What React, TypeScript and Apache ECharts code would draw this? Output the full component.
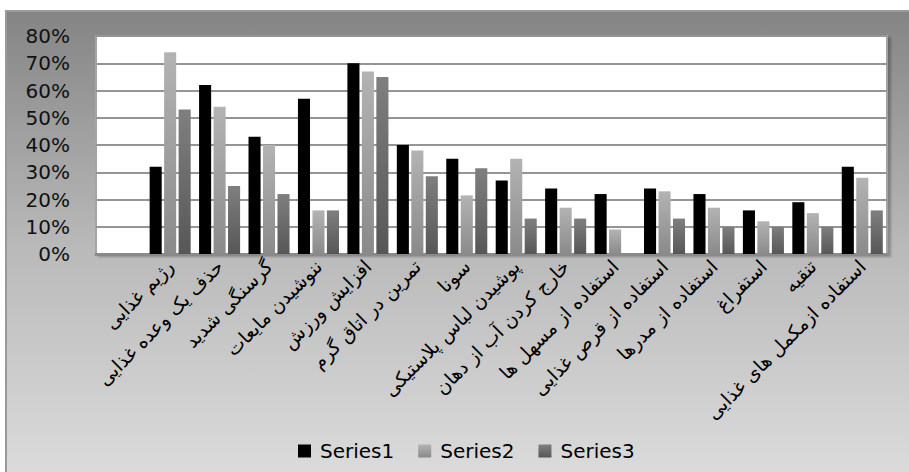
import React, { useEffect, useRef } from "react";
import * as echarts from "echarts";

const categories = [
  "",
  "رژیم غذایی",
  "حذف یک وعده غذایی",
  "گرسنگی شدید",
  "ننوشیدن مایعات",
  "افزایش ورزش",
  "تمرین در اتاق گرم",
  "سونا",
  "پوشیدن لباس پلاستیکی",
  "خارج کردن آب از دهان",
  "استفاده از مسهل ها",
  "استفاده از قرص غذایی",
  "استفاده از مدرها",
  "استفراغ",
  "تنقیه",
  "استفاده ازمکمل های غذایی",
];

const series1 = [null, 32, 62, 43, 57, 70, 40, 35, 27, 24, 22, 24, 22, 16, 19, 32];
const series2 = [null, 74, 54, 40, 16, 67, 38, 21.5, 35, 17, 9, 23, 17, 12, 15, 28];
const series3 = [null, 53, 25, 22, 16, 65, 28.5, 31.5, 13, 13, 0, 13, 10, 10, 10, 16];

const yTicks = { min: 0, max: 80, interval: 10 };

const FONT = "'DejaVu Sans', Verdana, sans-serif";

const grad = (top: string, bottom: string) => ({
  type: "linear",
  x: 0,
  y: 0,
  x2: 0,
  y2: 1,
  colorStops: [
    { offset: 0, color: top },
    { offset: 1, color: bottom },
  ],
});

export default function App() {
  const ref = useRef<HTMLDivElement>(null);
  useEffect(() => {
    if (!ref.current) return;
    const chart = echarts.init(ref.current, undefined, { renderer: "svg" });
    chart.setOption({
      animation: false,
      backgroundColor: "#ffffff",
      graphic: [
        {
          type: "rect",
          z: -10,
          silent: true,
          shape: { x: 6, y: 11, width: 910, height: 470 },
          style: {
            fill: {
              type: "linear",
              x: 0,
              y: 0,
              x2: 0,
              y2: 1,
              colorStops: [
                { offset: 0, color: "#848484" },
                { offset: 0.5, color: "#b9b9b9" },
                { offset: 1, color: "#dcdcdc" },
              ],
            },
            stroke: "#999999",
            lineWidth: 2,
          },
        },
      ],
      grid: {
        left: 96,
        right: 22,
        top: 36,
        bottom: 218,
        show: true,
        backgroundColor: "#ffffff",
        borderColor: "#a4a4a4",
        borderWidth: 2,
        shadowColor: "rgba(0,0,0,0.25)",
        shadowOffsetX: 3,
        shadowOffsetY: 2,
        shadowBlur: 2,
      },
      legend: {
        left: 293,
        top: 436,
        itemWidth: 13,
        itemHeight: 13,
        itemGap: 24,
        icon: "rect",
        textStyle: { fontSize: 20, fontFamily: FONT, color: "#000", padding: [0, 0, 0, 4] },
        data: ["Series1", "Series2", "Series3"],
      },
      xAxis: {
        type: "category",
        data: categories,
        axisLine: { show: true, lineStyle: { color: "#8a8a8a", width: 3 } },
        axisTick: { show: false },
        axisLabel: {
          interval: 0,
          rotate: 45,
          fontSize: 19,
          fontFamily: FONT,
          color: "#000",
          margin: 9,
        },
      },
      yAxis: {
        type: "value",
        min: yTicks.min,
        max: yTicks.max,
        interval: yTicks.interval,
        axisLine: { show: false },
        axisTick: { show: false },
        splitLine: { lineStyle: { color: "#959595", width: 2 } },
        axisLabel: {
          formatter: "{value}%",
          fontSize: 20,
          fontFamily: FONT,
          color: "#111",
          margin: 26,
        },
      },
      series: [
        {
          name: "Series1",
          type: "bar",
          data: series1,
          barGap: "20%",
          barCategoryGap: "17%",
          itemStyle: { color: "#000000" },
        },
        {
          name: "Series2",
          type: "bar",
          data: series2,
          barGap: "20%",
          barCategoryGap: "17%",
          itemStyle: { color: grad("#b3b3b3", "#8a8a8a") },
        },
        {
          name: "Series3",
          type: "bar",
          data: series3,
          barGap: "20%",
          barCategoryGap: "17%",
          itemStyle: { color: grad("#7f7f7f", "#575757") },
        },
      ],
    });
    return () => chart.dispose();
  }, []);
  return (
    <div
      ref={ref}
      style={{ position: "fixed", left: 0, top: 0, width: 909, height: 472 }}
    />
  );
}
